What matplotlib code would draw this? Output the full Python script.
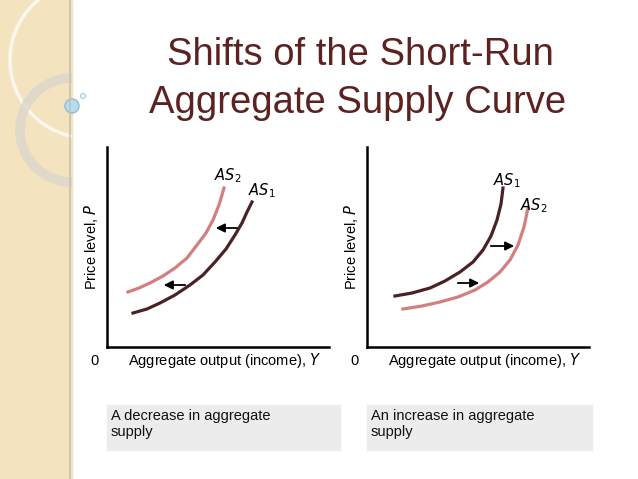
import numpy as np
import matplotlib.pyplot as plt
from matplotlib.patches import Rectangle, Circle

plt.rcParams['font.family'] = ['Liberation Sans', 'DejaVu Sans']

# curves in panel units (x: output, y: price level)
as1_left_x = [26, 40, 53, 68, 83, 96, 108, 119, 128, 135, 140, 143, 145]
as1_left_y = [34, 38, 44, 52, 62, 72, 85, 98, 112, 124, 135, 141, 145]
as2_left_x = [21, 32, 43, 56, 68, 80, 90, 99, 106, 112, 117]
as2_left_y = [55, 59, 64, 71, 79, 89, 102, 114, 127, 142, 159]
as1_right_x = [28, 45, 63, 78, 93, 106, 116, 124, 130, 134, 136]
as1_right_y = [51, 54, 59, 66, 75, 85, 97, 111, 127, 143, 159]
as2_right_x = [36, 55, 73, 91, 108, 121, 133, 143, 151, 157, 161]
as2_right_y = [38, 41, 45, 50, 57, 65, 75, 87, 102, 120, 139]

arrows_left = [(133, 106, 119), (81, 54, 62)]
arrows_right = [(121, 150, 101), (88, 115, 64)]

captions = ["A decrease in aggregate\nsupply", "An increase in aggregate\nsupply"]

W, H = 638, 479
fig = plt.figure(figsize=(W / 100, H / 100), dpi=100)
bg = fig.add_axes([0, 0, 1, 1])
bg.set_xlim(0, W)
bg.set_ylim(H, 0)
bg.axis('off')

# slide decoration, clipped to the left strip
strip = Rectangle((0, 0), 72, H, color='#f3e3bf', zorder=0)
bg.add_patch(strip)
bg.plot([70, 70], [0, H], color='#c9c0b0', lw=1.2)
c1 = Circle((88, 60), 78, fill=False, ec='#fbf7ee', lw=2.5)
c2 = Circle((72, 130), 52, fill=False, ec='#dcd7cc', lw=7, alpha=0.8)
for c in (c1, c2):
    bg.add_patch(c)
    c.set_clip_path(strip)
bg.add_patch(Circle((72, 106), 7, color='#b7dbef', ec='#8fbcd6'))
bg.add_patch(Circle((83, 96), 2.5, fill=False, ec='#9cc6de', lw=0.8))

bg.text(360, 55, "Shifts of the Short-Run", ha='center', va='center',
        fontsize=27.5, color='#5c2222')
bg.text(358, 103, "Aggregate Supply Curve", ha='center', va='center',
        fontsize=27.5, color='#5c2222')

# caption boxes
for (x0, x1), txt in zip([(107, 340), (367, 592)], captions):
    bg.add_patch(Rectangle((x0, 405), x1 - x0, 45, color='#ececec', zorder=1))
    bg.text(x0 + 4, 409, txt, ha='left', va='top', fontsize=10.5,
            color='#111111', linespacing=1.15)

dark = '#4a2226'
pink = '#d17f7f'


def panel(left_px, curves, arrows, labels):
    ax = fig.add_axes([left_px / W, 1 - 347 / H, 222 / W, 200 / H])
    ax.set_xlim(0, 222)
    ax.set_ylim(0, 200)
    ax.patch.set_alpha(0)
    for s in ['top', 'right']:
        ax.spines[s].set_visible(False)
    for s in ['left', 'bottom']:
        ax.spines[s].set_linewidth(1.8)
    ax.set_xticks([])
    ax.set_yticks([])
    for x, y, c in curves:
        ax.plot(x, y, color=c, lw=2.3)
    for x0, x1, y in arrows:
        ax.annotate('', xy=(x1, y), xytext=(x0, y),
                    arrowprops=dict(arrowstyle='-|>', color='black', lw=1.3,
                                    mutation_scale=13))
    for x, y, t in labels:
        ax.text(x, y, t, fontsize=10.5, style='italic', ha='center', va='center')
    ax.text(-8, -14, "0", fontsize=10.5, ha='right', va='center')
    ax.text(118, -14, "Aggregate output (income), $Y$", fontsize=10.5,
            ha='center', va='center')
    ax.text(-16, 100, "Price level, $P$", fontsize=10.5, rotation=90,
            ha='center', va='center')


panel(107, [(as1_left_x, as1_left_y, dark), (as2_left_x, as2_left_y, pink)],
      arrows_left, [(121, 171, "$AS_2$"), (155, 156, "$AS_1$")])
panel(367, [(as1_right_x, as1_right_y, dark), (as2_right_x, as2_right_y, pink)],
      arrows_right, [(140, 166, "$AS_1$"), (167, 141, "$AS_2$")])

fig.savefig('out.png', dpi=100)
